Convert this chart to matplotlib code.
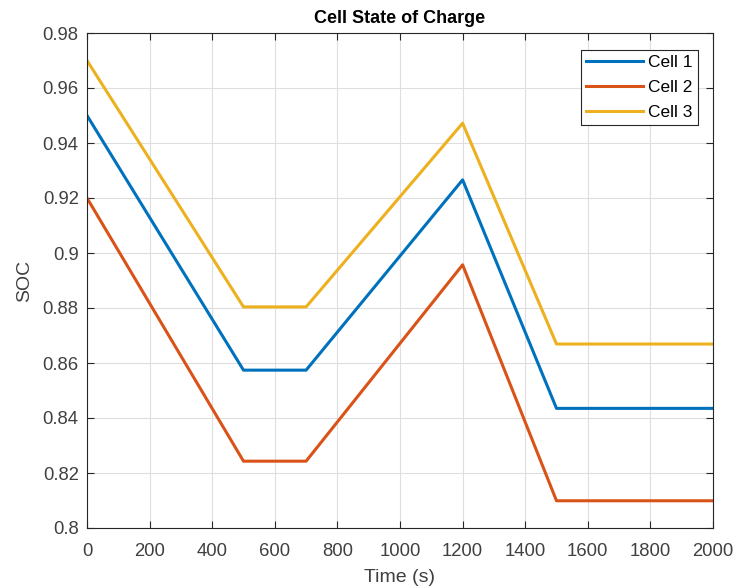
import matplotlib
matplotlib.use('Agg')
import matplotlib.pyplot as plt
import numpy as np

plt.rcParams['font.family'] = ['Liberation Sans', 'DejaVu Sans']

# breakpoints of the charge / discharge profile
time_s = [0, 500, 700, 1200, 1500, 2000]
cell1 = [0.95, 0.8574, 0.8574, 0.9266, 0.8435, 0.8435]
cell2 = [0.92, 0.8243, 0.8243, 0.8957, 0.8099, 0.8099]
cell3 = [0.97, 0.8804, 0.8804, 0.9472, 0.8669, 0.8669]
labels = ['Cell 1', 'Cell 2', 'Cell 3']
colors = ['#0072BD', '#D95319', '#EDB120']

fig = plt.figure(figsize=(7.36, 5.88), dpi=100)
ax = fig.add_axes([87/736, 1 - 528/588, (713 - 87)/736, (528 - 33)/588])

for vals, lab, c in zip([cell1, cell2, cell3], labels, colors):
    ax.plot(time_s, vals, color=c, linewidth=2.2, label=lab)

ax.set_xlim(0, 2000)
ax.set_ylim(0.8, 0.98)
ax.set_xticks(np.arange(0, 2001, 200))
ax.set_yticks(np.arange(0.8, 0.981, 0.02))
ax.set_yticklabels(['0.8', '0.82', '0.84', '0.86', '0.88', '0.9', '0.92', '0.94', '0.96', '0.98'])
ax.grid(True, color='#dedede', linewidth=0.8)
ax.set_axisbelow(True)
for s in ax.spines.values():
    s.set_color('#262626')
    s.set_linewidth(0.8)
ax.tick_params(direction='in', length=5, color='#262626', labelcolor='#404040', labelsize=13.3,
               top=True, right=True, labeltop=False, labelright=False)
ax.tick_params(axis='x', pad=11)
ax.tick_params(axis='y', pad=6)

ax.set_xlabel('Time (s)', fontsize=14, color='#404040', labelpad=6)
ax.set_ylabel('SOC', fontsize=14, color='#404040', labelpad=7)
ax.set_title('Cell State of Charge', fontsize=13, fontweight='bold', color='black', pad=7)

leg = ax.legend(loc='upper right', bbox_to_anchor=((698 - 87)/626, (528 - 50)/495), fontsize=12.5,
                fancybox=False, framealpha=1, edgecolor='#262626', handlelength=3.3,
                handletextpad=0.3, borderpad=0.3, labelspacing=0.55, borderaxespad=0)
leg.get_frame().set_linewidth(0.8)
for t in leg.get_texts():
    t.set_color('black')

fig.savefig('out.png', dpi=100)
